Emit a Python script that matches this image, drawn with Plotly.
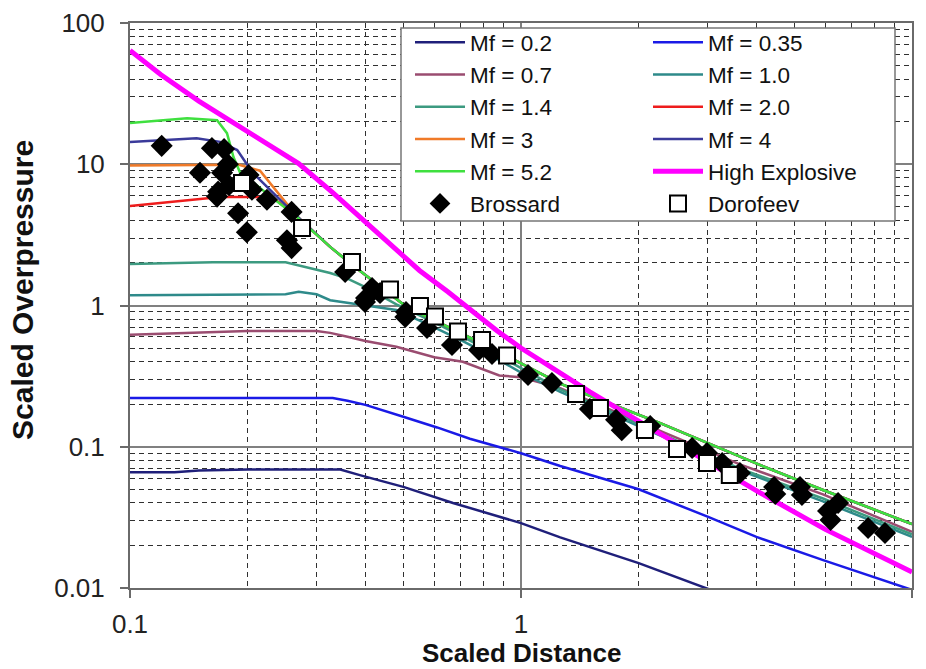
import plotly.graph_objects as go

# ---- flame Mach number curves (scaled distance vs scaled overpressure) ----
mf02_x = [0.1, 0.13, 0.15, 0.2, 0.3, 0.345, 0.387, 0.5, 0.67, 1.0, 1.26, 2.0, 3.25]
mf02_y = [0.066, 0.066, 0.068, 0.069, 0.069, 0.069, 0.063, 0.052, 0.040, 0.0288, 0.0228, 0.015, 0.0091]

mf035_x = [0.1, 0.2, 0.33, 0.36, 0.4, 0.5, 0.61, 0.74, 1.0, 1.26, 2.0, 3.0, 4.0, 5.9, 10]
mf035_y = [0.221, 0.222, 0.221, 0.212, 0.198, 0.163, 0.137, 0.114, 0.090, 0.073, 0.05, 0.032, 0.023, 0.0158, 0.0097]

mf07_x = [0.1, 0.15, 0.2, 0.3, 0.325, 0.36, 0.4, 0.48, 0.6, 0.71, 0.88, 1.0, 1.26, 2.0, 3.63, 5.92, 10]
mf07_y = [0.62, 0.64, 0.66, 0.66, 0.64, 0.60, 0.56, 0.51, 0.43, 0.40, 0.32, 0.31, 0.26, 0.15, 0.075, 0.046, 0.025]

mf10_x = [0.1, 0.2, 0.25, 0.27, 0.3, 0.325, 0.4, 0.48, 0.6, 0.71, 0.88, 1.0, 1.26, 2.0, 3.63, 5.92, 10]
mf10_y = [1.18, 1.19, 1.2, 1.25, 1.2, 1.09, 1.0, 0.93, 0.70, 0.56, 0.41, 0.335, 0.245, 0.14, 0.068, 0.041, 0.023]

mf14_x = [0.1, 0.163, 0.25, 0.3, 0.325, 0.36, 0.4, 0.48, 0.6, 0.71, 0.88, 1.0, 1.26, 2.0, 3.63, 5.92, 10]
mf14_y = [1.97, 2.02, 2.02, 1.78, 1.70, 1.55, 1.35, 1.02, 0.76, 0.60, 0.44, 0.36, 0.255, 0.145, 0.07, 0.043, 0.024]

mf20_x = [0.1, 0.17, 0.206, 0.23, 0.24, 0.267, 0.325, 0.365, 0.51, 0.7, 1.0, 1.26, 1.53, 2.27, 4.08, 5.92, 10]
mf20_y = [5.06, 5.87, 5.87, 5.8, 5.4, 4.24, 2.6, 2.0, 0.975, 0.64, 0.39, 0.28, 0.225, 0.147, 0.0743, 0.0494, 0.0284]

mf3_x = [0.1, 0.19, 0.215, 0.24, 0.267, 0.325, 0.365, 0.51, 0.7, 1.0, 1.26, 1.53, 2.27, 4.08, 5.92, 10]
mf3_y = [9.8, 9.9, 9.0, 6.2, 4.3, 2.6, 2.0, 0.975, 0.64, 0.39, 0.28, 0.225, 0.147, 0.0743, 0.0494, 0.0284]

mf4_x = [0.1, 0.148, 0.17, 0.188, 0.206, 0.237, 0.267, 0.325, 0.365, 0.51, 0.7, 1.0, 1.26, 1.53, 2.27, 4.08, 5.92, 10]
mf4_y = [14.4, 15.3, 14.4, 12.6, 8.7, 5.9, 4.3, 2.6, 2.0, 0.975, 0.64, 0.39, 0.28, 0.225, 0.147, 0.0743, 0.0494, 0.0284]

mf52_x = [0.1, 0.14, 0.167, 0.177, 0.184, 0.191, 0.215, 0.267, 0.325, 0.365, 0.51, 0.7, 1.0, 1.26, 1.53, 2.27, 4.08, 5.92, 10]
mf52_y = [19.6, 21.2, 20.5, 16.6, 11.2, 8.8, 6.8, 4.24, 2.6, 2.0, 0.975, 0.64, 0.39, 0.28, 0.225, 0.147, 0.0743, 0.0494, 0.0284]

# ---- high explosive reference curve ----
he_x = [0.1, 0.12, 0.15, 0.2, 0.27, 0.33, 0.4, 0.55, 0.65, 0.87, 1.0, 1.26, 1.5, 2.0, 3.0, 4.1, 6.0, 10]
he_y = [64, 43, 28, 16.8, 10.1, 6.3, 3.9, 1.77, 1.25, 0.66, 0.5, 0.333, 0.245, 0.152, 0.078, 0.047, 0.026, 0.013]

# ---- experimental data ----
brossard_x = [0.1205, 0.162, 0.174, 0.151, 0.178, 0.172, 0.179, 0.168, 0.167, 0.201, 0.205, 0.224,
              0.189, 0.199, 0.259, 0.252, 0.259, 0.355, 0.4015, 0.416, 0.436, 0.399, 0.508, 0.506,
              0.575, 0.666, 0.781, 0.843, 1.042, 1.20, 1.50, 1.75, 1.81, 2.14, 2.74, 2.99, 3.27,
              3.63, 4.44, 4.47, 5.17, 5.23, 6.10, 6.19, 6.47, 7.72, 8.53]
brossard_y = [13.5, 13.0, 12.8, 8.7, 10.0, 8.7, 7.1, 6.4, 5.9, 8.4, 6.6, 5.6,
              4.5, 3.3, 4.6, 2.9, 2.55, 1.726, 1.13, 1.33, 1.226, 1.06, 0.90, 0.83,
              0.693, 0.525, 0.484, 0.454, 0.322, 0.283, 0.185, 0.155, 0.131, 0.140, 0.098, 0.0904, 0.0767,
              0.0652, 0.0519, 0.0463, 0.0519, 0.0455, 0.0351, 0.0303, 0.040, 0.0266, 0.0245]

dorofeev_x = [0.1934, 0.2754, 0.3696, 0.4624, 0.5516, 0.6026, 0.690, 0.795, 0.921, 1.383, 1.592,
              2.075, 2.506, 2.99, 3.42]
dorofeev_y = [7.37, 3.54, 2.03, 1.30, 0.992, 0.836, 0.655, 0.570, 0.443, 0.236, 0.188,
              0.1315, 0.0964, 0.0767, 0.063]

FONT = "Liberation Sans, Arial, sans-serif"

curves = [
    ("Mf = 0.2", mf02_x, mf02_y, "#1f1f7a", 2.5, "legend"),
    ("Mf = 0.35", mf035_x, mf035_y, "#1a1ae6", 2.5, "legend2"),
    ("Mf = 0.7", mf07_x, mf07_y, "#9a4c70", 2.5, "legend"),
    ("Mf = 1.0", mf10_x, mf10_y, "#2e8a8a", 2.5, "legend2"),
    ("Mf = 1.4", mf14_x, mf14_y, "#3c9a80", 2.5, "legend"),
    ("Mf = 2.0", mf20_x, mf20_y, "#ee1c1c", 2.5, "legend2"),
    ("Mf = 3", mf3_x, mf3_y, "#f07a28", 2.5, "legend"),
    ("Mf = 4", mf4_x, mf4_y, "#3a3a9a", 2.5, "legend2"),
    ("Mf = 5.2", mf52_x, mf52_y, "#3fe03f", 2.5, "legend"),
    ("High Explosive", he_x, he_y, "#ff00ff", 5, "legend2"),
]

fig = go.Figure()
for name, xs, ys, color, width, leg in curves:
    fig.add_trace(go.Scatter(x=xs, y=ys, mode="lines", name=name,
                             line=dict(color=color, width=width), legend=leg))

fig.add_trace(go.Scatter(x=brossard_x, y=brossard_y, mode="markers", name="Brossard",
                         marker=dict(symbol="diamond", size=17, color="black",
                                     line=dict(width=0)),
                         legend="legend"))
fig.add_trace(go.Scatter(x=dorofeev_x, y=dorofeev_y, mode="markers", name="Dorofeev",
                         marker=dict(symbol="square", size=16, color="white",
                                     line=dict(width=2, color="black")),
                         legend="legend2"))

minor_x = [v * m for v in (0.1, 1) for m in range(2, 10)]
minor_y = [v * m for v in (0.01, 0.1, 1, 10) for m in range(2, 10)]

axis_common = dict(
    type="log",
    dtick=1,
    automargin=False,
    showgrid=True,
    gridcolor="#808080",
    gridwidth=1.5,
    showline=True,
    linecolor="#6a6a6a",
    linewidth=2,
    mirror=True,
    ticks="outside",
    ticklen=8,
    tickwidth=1.5,
    tickcolor="#6a6a6a",
    tickfont=dict(family=FONT, size=26, color="#222"),
    zeroline=False,
)

fig.update_xaxes(
    range=[-1, 1],
    minor=dict(tickvals=minor_x, showgrid=True, griddash="5px,4px",
               gridcolor="#303030", gridwidth=1, ticks=""),
    ticklabelstandoff=4,
    **axis_common,
)
fig.update_yaxes(
    range=[-2, 2],
    minor=dict(tickvals=minor_y, showgrid=True, griddash="5px,4px",
               gridcolor="#303030", gridwidth=1, ticks=""),
    ticklabelstandoff=10,
    **axis_common,
)

# axis titles, positioned in the margins
fig.add_annotation(text="<b>Scaled Overpressure</b>", textangle=-90,
                   xref="paper", yref="paper", x=(22 - 130) / 782, y=1 - (290 - 23) / 565,
                   xanchor="center", yanchor="middle", showarrow=False,
                   font=dict(family=FONT, size=30, color="#111"))
fig.add_annotation(text="<b>Scaled Distance</b>",
                   xref="paper", yref="paper", x=0.5, y=1 - (653 - 23) / 565,
                   xanchor="center", yanchor="middle", showarrow=False,
                   font=dict(family=FONT, size=26, color="#111"))

# legend frame behind the two legend columns
fig.add_shape(type="rect", xref="paper", yref="paper",
              x0=(401 - 130) / 782, x1=(895 - 130) / 782,
              y0=1 - (221 - 23) / 565, y1=1 - (28 - 23) / 565,
              fillcolor="white", line=dict(color="#777", width=1.5), layer="above")

legend_style = dict(
    bgcolor="rgba(0,0,0,0)",
    borderwidth=0,
    font=dict(family=FONT, size=22.5, color="#111"),
    itemwidth=50,
    tracegroupgap=0,
    yanchor="top",
    xanchor="left",
    y=1 - (21 - 23) / 565,
)

fig.update_layout(
    width=926,
    height=669,
    margin=dict(l=130, r=14, t=23, b=81, autoexpand=False),
    plot_bgcolor="white",
    paper_bgcolor="white",
    showlegend=True,
    legend=dict(x=(410 - 130) / 782, **legend_style),
    legend2=dict(x=(648 - 130) / 782, **legend_style),
)

fig.write_html("out.html")
